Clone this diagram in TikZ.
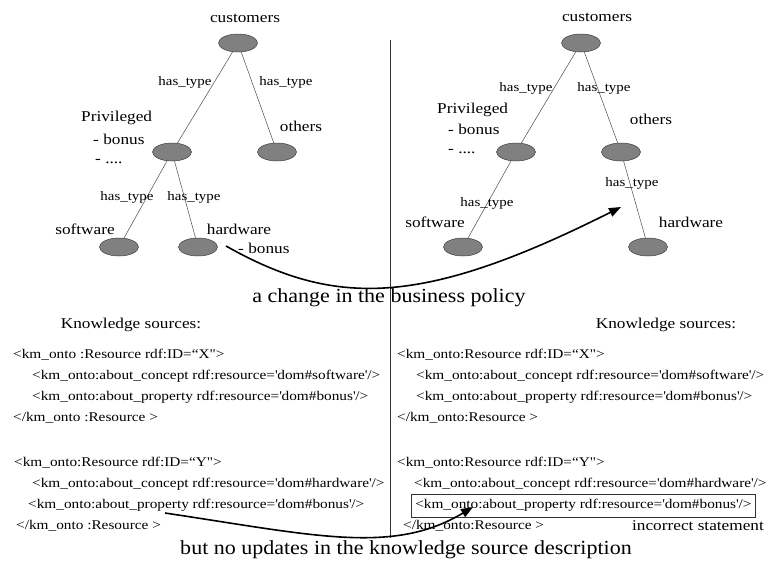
\documentclass[tikz,border=0pt]{standalone}
\usepackage{fontspec}
\setmainfont{Liberation Serif}
\newfontfamily\lblfont{Liberation Serif}[FakeStretch=1.15]
\newfontfamily\capfont{Liberation Serif}[FakeStretch=1.1]
\usetikzlibrary{shapes.geometric,arrows.meta}
\begin{document}
\begin{tikzpicture}[x=1pt,y=-1pt,
  blob/.style={ellipse,draw=black!75,fill=black!50,line width=0.5pt,minimum width=39pt,minimum height=18pt,inner sep=0pt},
  rel/.style={draw=black!70,line width=0.5pt},
  lbl/.style={inner sep=0pt,font=\lblfont\fontsize{15}{17}\selectfont},
  lblw/.style={lbl,anchor=west},
  reltext/.style={inner sep=0pt,font=\lblfont\fontsize{13}{15}\selectfont},
  code/.style={inner sep=0pt,anchor=west,font=\lblfont\fontsize{13.3}{15}\selectfont},
  captext/.style={inner sep=0pt,font=\capfont\fontsize{20}{23}\selectfont},
  bigarrow/.style={line width=1.6pt,-{Triangle[length=12pt,width=9pt]}}
]
\useasboundingbox (0,0) rectangle (773,563);
\fill[white] (0,0) rectangle (773,563);

% divider
\coordinate (dtop) at (390,40);
\coordinate (dbot) at (390,538);
\draw[black!80,line width=0.6pt] (dtop) -- (dbot);

% left tree
\node[blob] (lc) at (238,43) {};
\node[blob] (lp) at (172,152) {};
\node[blob] (lo) at (277,152) {};
\node[blob] (ls) at (119,247) {};
\node[blob] (lh) at (198,247) {};
\draw[rel] (lc) -- (lp);
\draw[rel] (lc) -- (lo);
\draw[rel] (lp) -- (ls);
\draw[rel] (lp) -- (lh);
\node[lbl] (t1) at (245,18) {customers};
\node[reltext] (t2) at (185,82) {has\_type};
\node[reltext] (t3) at (286,82) {has\_type};
\node[lblw] (t4) at (81,118) {Privileged};
\node[lblw] (t5) at (93,139) {- bonus};
\node[lblw] (t6) at (95,162) {- ....};
\node[lbl] (t7) at (301,126) {others};
\node[reltext] (t8) at (127,197) {has\_type};
\node[reltext] (t9) at (194,197) {has\_type};
\node[lbl] (t10) at (85,229) {software};
\node[lbl] (t11) at (239,229) {hardware};
\node[lblw] (t12) at (238,248) {- bonus};

% right tree
\node[blob] (rc) at (581,43) {};
\node[blob] (rp) at (516,152) {};
\node[blob] (ro) at (621,152) {};
\node[blob] (rs) at (463,247) {};
\node[blob] (rh) at (648,247) {};
\draw[rel] (rc) -- (rp);
\draw[rel] (rc) -- (ro);
\draw[rel] (rp) -- (rs);
\draw[rel] (ro) -- (rh);
\node[lbl] (u1) at (597,17) {customers};
\node[reltext] (u2) at (526,88) {has\_type};
\node[reltext] (u3) at (604,88) {has\_type};
\node[lblw] (u4) at (437,110) {Privileged};
\node[lblw] (u5) at (448,129) {- bonus};
\node[lblw] (u6) at (448,152) {- ....};
\node[lbl] (u7) at (651,119) {others};
\node[reltext] (u8) at (632,183) {has\_type};
\node[reltext] (u9) at (487,203) {has\_type};
\node[lbl] (u10) at (435,222) {software};
\node[lbl] (u11) at (691,222) {hardware};

% captions
\node[captext] (cap1) at (389,298) {a change in the business policy};
\node[captext] (cap2) at (406,550) {but no updates in the knowledge source description};

% knowledge sources
\node[lbl] (k1) at (131,325) {Knowledge sources:};
\node[lbl] (k2) at (666,325) {Knowledge sources:};

% left code
\node[code] (a1) at (13,355) {<km\_onto :Resource rdf:ID=“X">};
\node[code] (a2) at (32,376) {<km\_onto:about\_concept rdf:resource=\textquotesingle dom\#software\textquotesingle/>};
\node[code] (a3) at (32,397) {<km\_onto:about\_property rdf:resource=\textquotesingle dom\#bonus\textquotesingle/>};
\node[code] (a4) at (13,418) {</km\_onto :Resource >};
\node[code] (a5) at (14,463) {<km\_onto:Resource rdf:ID=“Y">};
\node[code] (a6) at (32,484) {<km\_onto:about\_concept rdf:resource=\textquotesingle dom\#hardware\textquotesingle/>};
\node[code] (a7) at (28,505) {<km\_onto:about\_property rdf:resource=\textquotesingle dom\#bonus\textquotesingle/>};
\node[code] (a8) at (16,526) {</km\_onto :Resource >};

% right code
\node[code] (b1) at (397,355) {<km\_onto:Resource rdf:ID=“X">};
\node[code] (b2) at (416,376) {<km\_onto:about\_concept rdf:resource=\textquotesingle dom\#software\textquotesingle/>};
\node[code] (b3) at (416,397) {<km\_onto:about\_property rdf:resource=\textquotesingle dom\#bonus\textquotesingle/>};
\node[code] (b4) at (397,418) {</km\_onto:Resource >};
\node[code] (b5) at (397,463) {<km\_onto:Resource rdf:ID=“Y">};
\node[code] (b6) at (414,484) {<km\_onto:about\_concept rdf:resource=\textquotesingle dom\#hardware\textquotesingle/>};
\node[code,draw=black!80,line width=0.6pt,inner xsep=4pt,minimum height=23pt] (b7) at (411,505.5) {<km\_onto:about\_property rdf:resource=\textquotesingle dom\#bonus\textquotesingle/>\hspace{4pt}};
\node[code] (b8) at (403,526) {</km\_onto:Resource >};
\node[lbl] (inc) at (698,526) {incorrect statement};

% arrows
\coordinate (p1s) at (226,246);
\coordinate (p1e) at (621,207);
\draw[bigarrow] (p1s) .. controls (335,307.5) and (422,307) .. (p1e);
\coordinate (p2s) at (165,513);
\coordinate (p2e) at (473,507);
\draw[bigarrow] (p2s) .. controls (315,535.5) and (393,555) .. (p2e);
\end{tikzpicture}
\end{document}
